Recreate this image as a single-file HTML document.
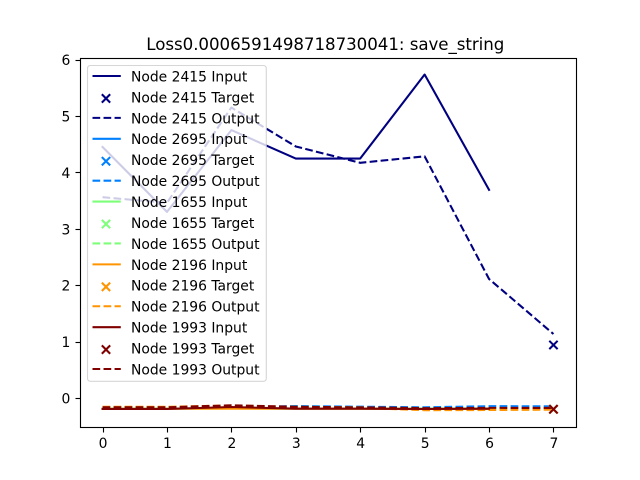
<!DOCTYPE html>
<html>
<head>
<meta charset="utf-8">
<style>
html,body{margin:0;padding:0;background:#fff;width:640px;height:480px;overflow:hidden}
svg{display:block}
text{font-family:"DejaVu Sans","Liberation Sans",sans-serif;fill:#000}
</style>
</head>
<body>
<svg id="chart" width="640" height="480" viewBox="0 0 640 480">
<rect x="0" y="0" width="640" height="480" fill="#fff"/>
<rect x="80" y="57.6" width="496" height="369.6" fill="#fff"/>
<text x="146.3" y="50" font-size="16.67" textLength="358" lengthAdjust="spacing">Loss0.0006591498718730041: save_string</text>
<g id="series-layer"></g>
<g id="axis-layer"></g>
<g id="legend-layer"></g>
</svg>
<script>
const nodes = ["2415", "2695", "1655", "2196", "1993"];
const colors = ["#000080", "#0080ff", "#7dff7a", "#ff9400", "#800000"];
const xTicks = [0, 1, 2, 3, 4, 5, 6, 7];
const yTicks = [0, 1, 2, 3, 4, 5, 6];
const inputs2415 = [4.45, 3.3, 4.75, 4.246, 4.246, 5.735, 3.69];
const outputs2415 = [3.56, 3.46, 5.15, 4.46, 4.17, 4.285, 2.11, 1.135];
const target2415 = 0.94;
const inputs2695 = [-0.186, -0.186, -0.18, -0.186, -0.186, -0.186, -0.186];
const outputs2695 = [-0.16, -0.16, -0.169, -0.142, -0.154, -0.165, -0.145, -0.147];
const target2695 = -0.2;
const inputs1655 = [-0.19, -0.19, -0.185, -0.19, -0.19, -0.19, -0.19];
const outputs1655 = [-0.16, -0.16, -0.15, -0.155, -0.165, -0.19, -0.18, -0.18];
const target1655 = -0.2;
const inputs2196 = [-0.191, -0.191, -0.19, -0.19, -0.191, -0.195, -0.195];
const outputs2196 = [-0.156, -0.156, -0.133, -0.16, -0.177, -0.216, -0.213, -0.207];
const target2196 = -0.2;
const inputs1993 = [-0.195, -0.195, -0.16, -0.19, -0.19, -0.195, -0.19];
const outputs1993 = [-0.165, -0.165, -0.129, -0.156, -0.165, -0.18, -0.175, -0.177];
const target1993 = -0.2;

const allInputs = [inputs2415, inputs2695, inputs1655, inputs2196, inputs1993];
const allOutputs = [outputs2415, outputs2695, outputs1655, outputs2196, outputs1993];
const allTargets = [target2415, target2695, target1655, target2196, target1993];

const NS = "http://www.w3.org/2000/svg";
const xScale = v => 102.55 + v * 64.416;
const yScale = v => 398 - v * 56.4;
const snap = v => Math.floor(v + 0.5) + 0.5;

function make(tag, parent, attrs) {
  const el = document.createElementNS(NS, tag);
  for (const k in attrs) el.setAttribute(k, attrs[k]);
  parent.appendChild(el);
  return el;
}
function linePoints(values) {
  return values.map((v, i) => xScale(i).toFixed(2) + "," + yScale(v).toFixed(2)).join(" ");
}
function drawCross(parent, cx, cy, color) {
  const r = 4.17;
  return make("path", parent, {
    d: `M${cx - r} ${cy - r}L${cx + r} ${cy + r}M${cx - r} ${cy + r}L${cx + r} ${cy - r}`,
    stroke: color, "stroke-width": 2.08, fill: "none"
  });
}

const seriesLayer = document.getElementById("series-layer");
nodes.forEach((node, i) => {
  const input = make("polyline", seriesLayer, {
    points: linePoints(allInputs[i]), fill: "none", stroke: colors[i],
    "stroke-width": 2.08, "stroke-linejoin": "round", "stroke-linecap": "square"
  });
  
  
  const output = make("polyline", seriesLayer, {
    points: linePoints(allOutputs[i]), fill: "none", stroke: colors[i],
    "stroke-width": 2.08, "stroke-linejoin": "round", "stroke-dasharray": "7.7 3.33"
  });
  
  
});
nodes.forEach((node, i) => {
  const target = drawCross(seriesLayer, xScale(7), yScale(allTargets[i]), colors[i]);
  
  
});

const axisLayer = document.getElementById("axis-layer");
xTicks.forEach(t => {
  const x = xScale(t);
  const tick = make("line", axisLayer, { x1: snap(x), x2: snap(x), y1: 427.5, y2: 432.5, stroke: "#000", "stroke-width": 1.11 });
  
  
  const label = make("text", axisLayer, { x: x + 0.5, y: 448, "font-size": 13.89, "text-anchor": "middle" });
  label.textContent = String(t);
  
  
});
yTicks.forEach(t => {
  const y = yScale(t);
  const tick = make("line", axisLayer, { x1: 80.5, x2: 75.5, y1: snap(y), y2: snap(y), stroke: "#000", "stroke-width": 1.11 });
  
  
  const label = make("text", axisLayer, { x: 70.3, y: y + 5.5, "font-size": 13.89, "text-anchor": "end" });
  label.textContent = String(t);
  
  
});
const frame = make("rect", axisLayer, { x: 80.5, y: 58.5, width: 496, height: 369, fill: "none", stroke: "#000", "stroke-width": 1.11 });



const legendLayer = document.getElementById("legend-layer");
const legendBox = make("rect", legendLayer, {
  x: 87.5, y: 65.5, width: 178.8, height: 315.8, rx: 2.8, ry: 2.8,
  fill: "#fff", "fill-opacity": 0.8, stroke: "#ccc", "stroke-opacity": 0.8, "stroke-width": 1.11
});



const kinds = ["Input", "Target", "Output"];
nodes.forEach((node, i) => {
  kinds.forEach((kind, k) => {
    const y = 76 + (i * 3 + k) * 20.93;
    let handle;
    if (kind === "Target") {
      handle = drawCross(legendLayer, 106, y + 1.5, colors[i]);
    } else {
      handle = make("line", legendLayer, {
        x1: 92.5, x2: 120.8, y1: y, y2: y, stroke: colors[i], "stroke-width": 2.08
      });
      if (kind === "Output") handle.setAttribute("stroke-dasharray", "7.7 3.33");
    }
    
    
    const label = make("text", legendLayer, { x: 131, y: y + 5.4, "font-size": 13.89 });
    label.textContent = "Node " + node + " " + kind;
    
    
  });
});
</script>
</body>
</html>
